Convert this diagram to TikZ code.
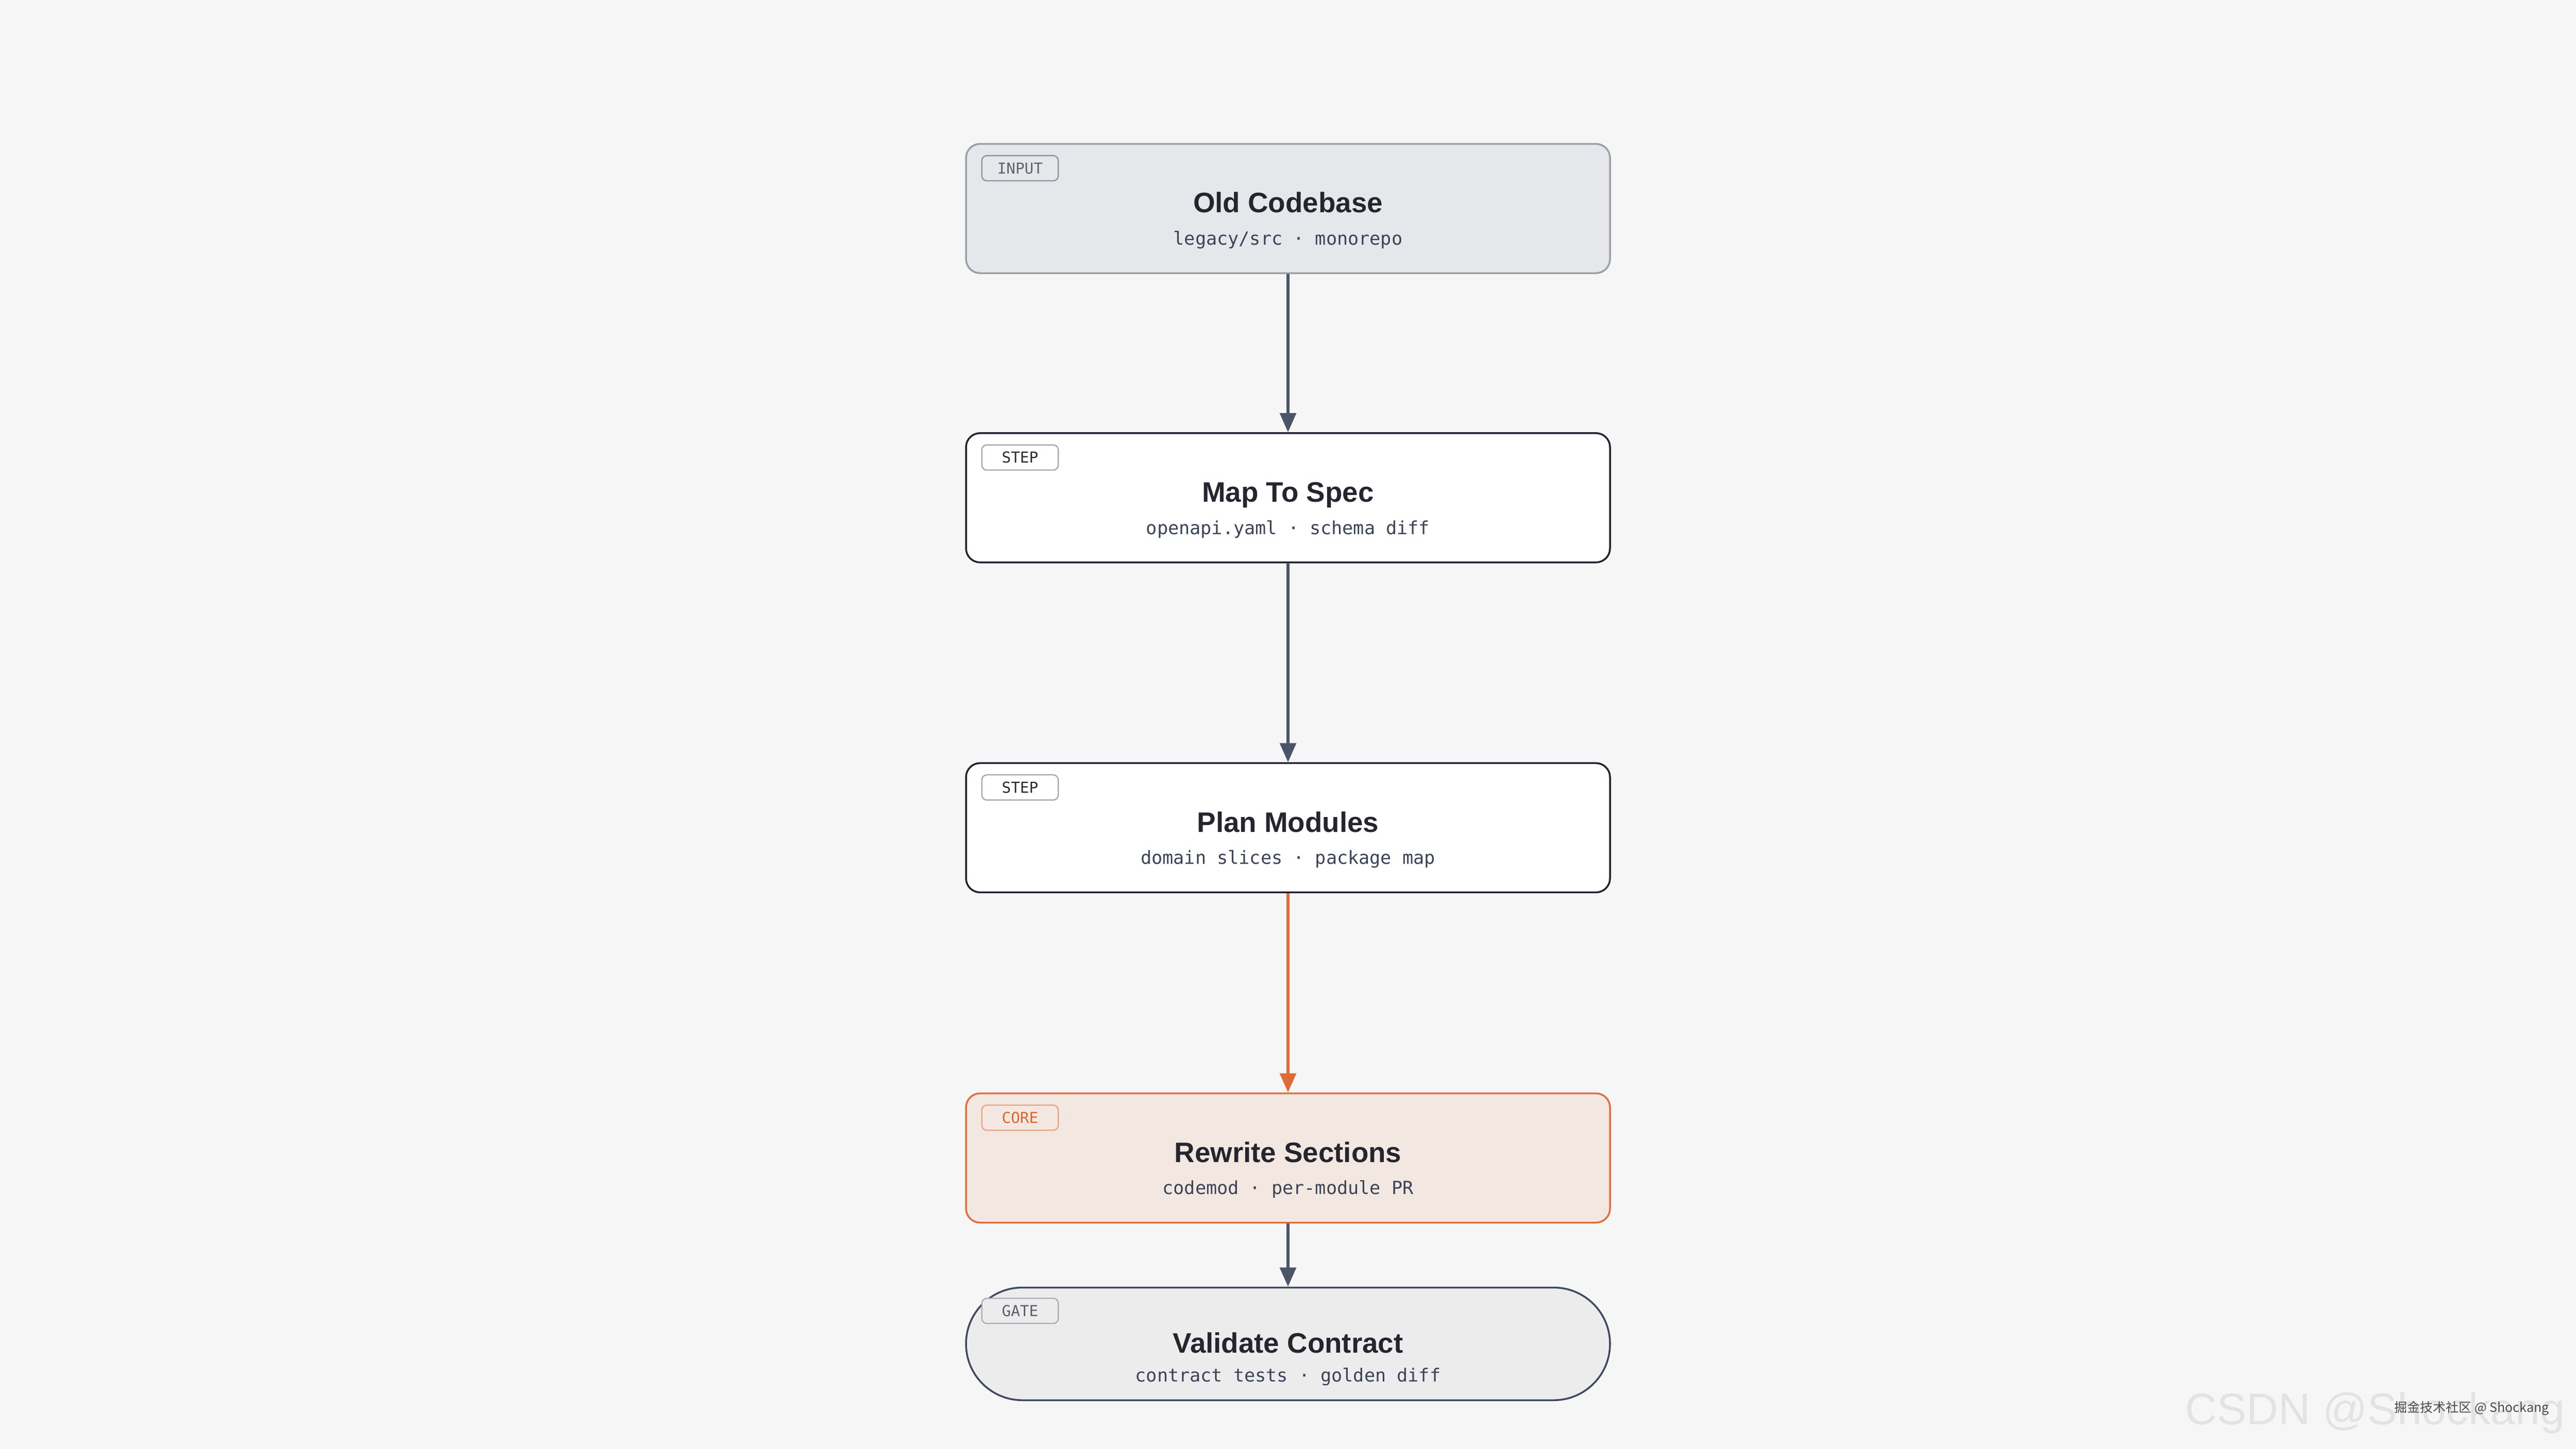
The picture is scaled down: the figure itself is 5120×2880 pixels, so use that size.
\documentclass[tikz,border=0pt]{standalone}
\usepackage{fontspec}
\setmainfont{Liberation Sans}
\setmonofont{DejaVu Sans Mono}
\newfontfamily\cjkfont{Noto Sans CJK SC}
\usetikzlibrary{positioning,arrows.meta,calc}
\definecolor{bgcol}{HTML}{F6F6F6}
\definecolor{inputfill}{HTML}{E5E7EA}
\definecolor{inputline}{HTML}{9AA0A8}
\definecolor{inputtag}{HTML}{8D939C}
\definecolor{inputtagtext}{HTML}{5F6570}
\definecolor{stepline}{HTML}{1E2430}
\definecolor{steptag}{HTML}{A6A6A6}
\definecolor{steptagtext}{HTML}{2B2B2B}
\definecolor{corefill}{HTML}{F3E8E1}
\definecolor{coreline}{HTML}{E07040}
\definecolor{coretag}{HTML}{E9A27E}
\definecolor{coretagtext}{HTML}{D9672E}
\definecolor{gatefill}{HTML}{ECECED}
\definecolor{gateline}{HTML}{3F4A5E}
\definecolor{gatetag}{HTML}{A9ADB4}
\definecolor{gatetagtext}{HTML}{5B606B}
\definecolor{titlecol}{HTML}{25252F}
\definecolor{notecol}{HTML}{3B4356}
\definecolor{flowcol}{HTML}{4B5568}
\definecolor{coreflow}{HTML}{DF6C38}
\definecolor{markcol}{HTML}{E3E3E3}
\definecolor{marktext}{HTML}{4A4A4A}
\tikzset{
stage/.style={
  draw, rectangle,
  rounded corners=7pt,
  line width=0.9pt,
  minimum width=320pt,
  minimum height=64.25pt,
  inner sep=0pt
},
inputbox/.style={stage, draw=inputline, fill=inputfill},
stepbox/.style={stage, draw=stepline, fill=white},
corebox/.style={stage, draw=coreline, fill=corefill},
gatebox/.style={stage, draw=gateline, fill=gatefill, minimum height=56pt, rounded corners=28pt},
tag/.style={
  draw, rectangle,
  anchor=north west,
  rounded corners=2.5pt,
  line width=0.6pt,
  minimum width=38pt,
  minimum height=12.5pt,
  inner sep=0pt,
  font=\ttfamily\fontsize{7.5}{8}\selectfont
},
stagetitle/.style={anchor=base, text=titlecol, font=\bfseries\fontsize{14}{16}\selectfont},
stagenote/.style={anchor=base, text=notecol, font=\ttfamily\fontsize{9}{11}\selectfont},
flow/.style={-{Triangle[length=9.5pt,width=8pt]}, line width=1.4pt, draw=flowcol},
}

\begin{document}
\begin{tikzpicture}[x=0.25pt, y=0.25pt]
            \useasboundingbox (0,0) rectangle (5120,-2880);
            \fill[bgcol] (0,0) rectangle (5120,-2880);

            \node[inputbox] (codebase) at (2560,-414.5) {};
            \node[stepbox]  (spec)     at (2560,-989.5) {};
            \node[stepbox]  (modules)  at (2560,-1645.5) {};
            \node[corebox]  (rewrite)  at (2560,-2302) {};
            \node[gatebox]  (gate)     at (2560,-2671.5) {};

            \node[tag, draw=inputtag, fill=inputfill, text=inputtagtext] (codebase-tag) at ($(codebase.north west)+(8pt,-6pt)$) {INPUT};
            \node[tag, draw=steptag, fill=white, text=steptagtext]       (spec-tag)     at ($(spec.north west)+(8pt,-6pt)$) {STEP};
            \node[tag, draw=steptag, fill=white, text=steptagtext]       (modules-tag)  at ($(modules.north west)+(8pt,-6pt)$) {STEP};
            \node[tag, draw=coretag, fill=corefill, text=coretagtext]    (rewrite-tag)  at ($(rewrite.north west)+(8pt,-6pt)$) {CORE};
            \node[tag, draw=gatetag, fill=gatefill, text=gatetagtext]    (gate-tag)     at ($(gate.north west)+(8pt,-5.5pt)$) {GATE};

            \node[stagetitle] (codebase-title) at ($(codebase.center)+(0,-2.1pt)$) {Old Codebase};
            \node[stagenote]  (codebase-note)  at ($(codebase.center)+(0,-18.1pt)$) {legacy/src · monorepo};
            \node[stagetitle] (spec-title)     at ($(spec.center)+(0,-2.1pt)$) {Map To Spec};
            \node[stagenote]  (spec-note)      at ($(spec.center)+(0,-18.1pt)$) {openapi.yaml · schema diff};
            \node[stagetitle] (modules-title)  at ($(modules.center)+(0,-2.1pt)$) {Plan Modules};
            \node[stagenote]  (modules-note)   at ($(modules.center)+(0,-18.1pt)$) {domain slices · package map};
            \node[stagetitle] (rewrite-title)  at ($(rewrite.center)+(0,-2.1pt)$) {Rewrite Sections};
            \node[stagenote]  (rewrite-note)   at ($(rewrite.center)+(0,-18.1pt)$) {codemod · per-module PR};
            \node[stagetitle] (gate-title)     at ($(gate.center)+(0,-4.6pt)$) {Validate Contract};
            \node[stagenote]  (gate-note)      at ($(gate.center)+(0,-18.9pt)$) {contract tests · golden diff};

            \draw[flow] (codebase) -- (spec);
            \draw[flow] (spec) -- (modules);
            \draw[flow, draw=coreflow, -{Triangle[length=9.5pt,width=8pt,fill=coreflow]}] (modules) -- (rewrite);
            \draw[flow] (rewrite) -- (gate);

            % watermarks
            \node[anchor=base west, text=markcol, font=\fontsize{22}{23}\selectfont] (mark) at (4329,-2832) {CSDN @Shockang};
            \node[anchor=west, text=marktext, font=\cjkfont\fontsize{6.4}{7}\selectfont] (mark-cn) at (4745,-2800) {掘金技术社区 @ Shockang};
\end{tikzpicture}
\end{document}
